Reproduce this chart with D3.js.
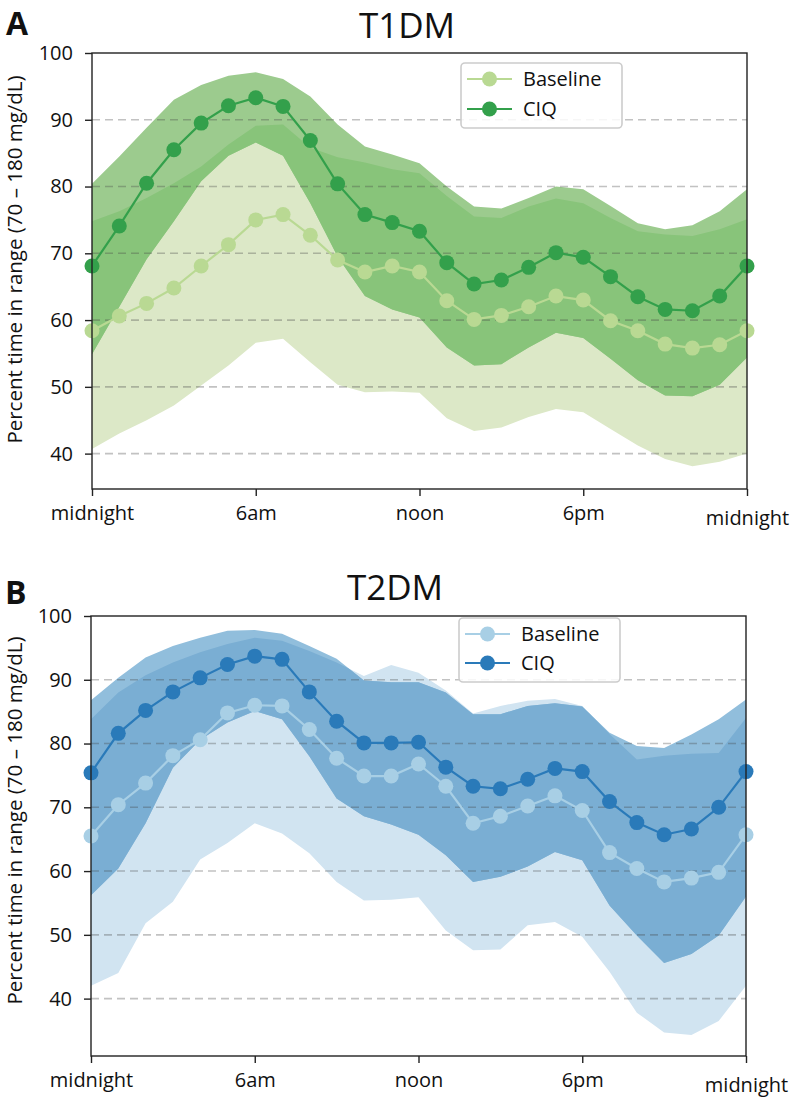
<!DOCTYPE html>
<html><head><meta charset="utf-8">
<script src="https://cdn.jsdelivr.net/npm/d3@7"></script>
<style>
body{margin:0;background:#fff}
svg{display:block}
text{font-family:"Open Sans",sans-serif;fill:#111}
</style>
</head><body>
<svg id="c" width="792" height="1098"></svg>
<script>
// ---------- data ----------
const hours = [0,1,2,3,4,5,6,7,8,9,10,11,12,13,14,15,16,17,18,19,20,21,22,23,24];
const xTickHours = [0,6,12,18,24];
const xTickLabels = ["midnight","6am","noon","6pm","midnight"];
const yTicks = [40,50,60,70,80,90,100];
const gridValues = [40,50,60,70,80,90];
const seriesNames = ["Baseline","CIQ"];

// T1DM
const t1BaseMean  = [58.4,60.6,62.5,64.8,68.1,71.3,75.0,75.8,72.7,69.0,67.2,68.1,67.2,62.9,60.1,60.7,62.0,63.6,63.0,59.9,58.4,56.4,55.8,56.3,58.4];
const t1BaseUpper = [74.8,76.3,78.3,80.5,83.0,86.3,89.1,89.3,85.8,84.4,83.6,82.6,82.0,78.6,75.5,75.3,77.0,78.2,77.5,75.3,73.3,72.8,72.6,73.6,75.1];
const t1BaseLower = [40.7,43.0,45.0,47.2,50.2,53.2,56.6,57.2,53.7,50.3,49.2,49.3,49.1,45.3,43.4,43.9,45.5,46.7,46.2,43.7,41.2,39.2,38.1,38.8,40.0];
const t1CiqMean   = [68.1,74.1,80.5,85.5,89.5,92.1,93.3,92.0,86.9,80.4,75.8,74.6,73.3,68.6,65.4,66.0,67.9,70.1,69.4,66.5,63.5,61.6,61.4,63.6,68.1];
const t1CiqUpper  = [80.4,84.5,88.8,93.0,95.2,96.6,97.1,96.1,93.5,89.3,86.0,84.8,83.5,80.0,77.0,76.7,78.3,80.0,79.6,77.1,74.5,73.6,74.2,76.3,79.6];
const t1CiqLower  = [54.9,62.0,69.1,74.8,80.8,84.6,86.6,84.6,77.5,69.5,63.6,61.6,60.4,55.9,53.2,53.4,55.9,58.1,57.3,54.2,51.0,48.7,48.6,50.3,54.4];

// T2DM
const t2BaseMean  = [65.5,70.4,73.8,78.1,80.6,84.8,86.0,85.9,82.2,77.7,74.9,74.9,76.8,73.3,67.5,68.6,70.2,71.8,69.5,62.9,60.4,58.3,58.9,59.8,65.7];
const t2BaseUpper = [83.8,88.0,90.7,92.7,94.3,95.6,96.6,96.1,94.5,92.7,90.6,92.3,91.1,88.3,84.7,85.9,86.7,87.0,85.9,81.5,77.5,78.1,78.4,78.5,84.0];
const t2BaseLower = [42.0,44.0,51.8,55.2,61.8,64.4,67.5,65.9,62.8,58.3,55.4,55.5,55.9,50.7,47.6,47.7,51.5,52.0,49.7,44.2,37.8,34.7,34.3,36.5,42.0];
const t2CiqMean   = [75.4,81.6,85.2,88.1,90.3,92.4,93.7,93.2,88.1,83.5,80.1,80.1,80.2,76.3,73.3,72.9,74.4,76.1,75.6,70.9,67.6,65.7,66.6,70.0,75.6];
const t2CiqUpper  = [86.8,90.3,93.5,95.3,96.6,97.7,97.8,97.2,95.3,93.3,89.9,89.6,89.6,88.0,84.6,84.6,85.9,86.3,85.8,81.7,79.6,79.3,81.4,83.8,86.9];
const t2CiqLower  = [56.2,60.4,67.5,76.2,80.6,83.3,85.1,83.8,78.0,71.4,68.6,67.3,65.7,62.5,58.3,59.1,60.7,63.0,61.7,54.6,49.9,45.6,47.0,49.9,56.0];

// ---------- drawing ----------
const svg = d3.select("#c");

function panel(o){
  const x = d3.scaleLinear().domain([0,24]).range([o.left,o.right]);
  const y = d3.scaleLinear().domain(o.yDomain).range([o.bottom,o.top]);
  const g = svg.append("g");
  const band = (lo,hi)=>d3.area()
      .x((d,i)=>x(hours[i])).y0((d,i)=>y(lo[i])).y1((d,i)=>y(hi[i]))(hours);

  const defs = g.append("defs");
  defs.append("clipPath").attr("id",o.id+"base").append("path").attr("d",band(o.baseLo,o.baseHi));

  g.append("path").attr("d",band(o.baseLo,o.baseHi)).attr("fill",o.c.baseBand);
  g.append("path").attr("d",band(o.ciqLo,o.ciqHi)).attr("fill",o.c.ciqBand);
  g.append("path").attr("d",band(o.ciqLo,o.ciqHi)).attr("fill",o.c.overlap)
    .attr("clip-path",`url(#${o.id}base)`);

  // grid
  g.append("g").selectAll("line").data(gridValues).join("line")
    .attr("x1",o.left).attr("x2",o.right)
    .attr("y1",d=>y(d)).attr("y2",d=>y(d))
    .attr("stroke","rgba(70,70,70,0.33)").attr("stroke-width",1.6)
    .attr("stroke-dasharray","8,5");

  // lines + markers
  const line = vals=>d3.line().x((d,i)=>x(hours[i])).y((d,i)=>y(vals[i]))(hours);
  [[o.baseMean,o.c.baseMark],[o.ciqMean,o.c.ciqMark]].forEach(([vals,col])=>{
    g.append("path").attr("d",line(vals)).attr("fill","none").attr("stroke",col).attr("stroke-width",2.2);
    g.append("g").selectAll("circle").data(hours).join("circle")
      .attr("cx",d=>x(d)).attr("cy",(d,i)=>y(vals[i])).attr("r",7.5).attr("fill",col);
  });

  // frame
  g.append("rect").attr("x",o.left).attr("y",o.top)
    .attr("width",o.right-o.left).attr("height",o.bottom-o.top)
    .attr("fill","none").attr("stroke","#222").attr("stroke-width",1.4);

  // axes
  const ya = g.append("g").attr("transform",`translate(${o.left},0)`)
    .call(d3.axisLeft(y).tickValues(yTicks).tickSize(7).tickPadding(12).tickFormat(d3.format("d")));
  ya.select(".domain").remove();
  ya.selectAll("line").attr("stroke","#222").attr("stroke-width",1.4);
  ya.selectAll("text").attr("font-size",20).attr("font-family","Open Sans").attr("fill","#111");

  const xa = g.append("g").attr("transform",`translate(0,${o.bottom})`)
    .call(d3.axisBottom(x).tickValues(xTickHours).tickSize(7).tickPadding(10)
      .tickFormat((d,i)=>xTickLabels[i]));
  xa.select(".domain").remove();
  xa.selectAll("line").attr("stroke","#222").attr("stroke-width",1.4);
  xa.selectAll("text").attr("font-size",20).attr("font-family","Open Sans").attr("fill","#111")
    .attr("transform",(d,i)=> i===xTickLabels.length-1 ? "translate(0,5)" : null);

  // y label
  g.append("text").attr("transform",`translate(${o.ylabX},${(o.ylabY)}) rotate(-90)`)
    .attr("text-anchor","middle").attr("font-size",20.5)
    .text("Percent time in range (70 \u2013 180 mg/dL)");

  // title & letter
  g.append("text").attr("x",o.titleX).attr("y",o.titleY).attr("text-anchor","middle")
    .attr("font-family","Liberation Sans, Arial, sans-serif")
    .attr("font-size",35).text(o.title);
  g.append("text").attr("x",o.letterX).attr("y",o.letterY)
    .attr("font-family","Liberation Sans, Arial, sans-serif").attr("font-weight","bold")
    .attr("font-size",32).text(o.letter);

  // legend
  const L = o.legend;
  g.append("rect").attr("x",L.x).attr("y",L.y).attr("width",L.w).attr("height",L.h)
    .attr("rx",4).attr("fill","rgba(255,255,255,0.85)").attr("stroke","#ccc").attr("stroke-width",1.6);
  [o.c.baseMark,o.c.ciqMark].forEach((col,i)=>{
    const cy = L.y + L.row0 + i*L.dy;
    g.append("line").attr("x1",L.x+6).attr("x2",L.x+51).attr("y1",cy).attr("y2",cy)
      .attr("stroke",col).attr("stroke-width",2.2);
    g.append("circle").attr("cx",L.x+28.5).attr("cy",cy).attr("r",7.5).attr("fill",col);
    g.append("text").attr("x",L.x+62).attr("y",cy+7).attr("font-size",20).text(seriesNames[i]);
  });
}

panel({
  id:"a", left:92, right:747, top:53, bottom:489, yDomain:[34.7,100],
  baseMean:t1BaseMean, baseHi:t1BaseUpper, baseLo:t1BaseLower,
  ciqMean:t1CiqMean, ciqHi:t1CiqUpper, ciqLo:t1CiqLower,
  c:{baseBand:"#dce8c7", ciqBand:"#9ccb8e", overlap:"#88c47a", baseMark:"#b9d993", ciqMark:"#33a04b"},
  title:"T1DM", titleX:407, titleY:38, letter:"A", letterX:6, letterY:35,
  ylabX:21.5, ylabY:259.5,
  legend:{x:461,y:63,w:161,h:65,row0:16,dy:30}
});
panel({
  id:"b", left:91, right:746, top:616, bottom:1056, yDomain:[31,100],
  baseMean:t2BaseMean, baseHi:t2BaseUpper, baseLo:t2BaseLower,
  ciqMean:t2CiqMean, ciqHi:t2CiqUpper, ciqLo:t2CiqLower,
  c:{baseBand:"#d1e4f1", ciqBand:"#91bedc", overlap:"#7aaed3", baseMark:"#a8cfe5", ciqMark:"#2a7ab9"},
  title:"T2DM", titleX:395, titleY:600, letter:"B", letterX:5, letterY:604,
  ylabX:21.5, ylabY:820.5,
  legend:{x:459,y:618,w:161,h:64,row0:16,dy:29}
});
</script>
</body></html>
